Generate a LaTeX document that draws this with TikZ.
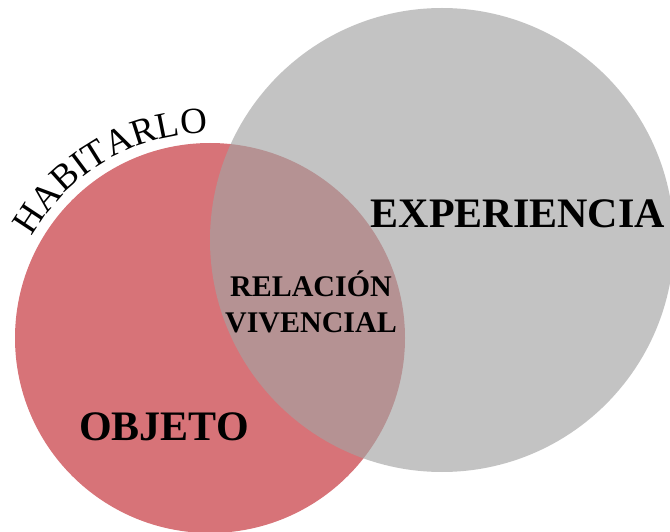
\documentclass[tikz,border=0pt]{standalone}
\usepackage{fontspec}
\setmainfont{Liberation Serif}
\usepackage{tikz}
\usetikzlibrary{positioning,
				decorations.text}
\definecolor{objred}{HTML}{D77378}
\definecolor{expgray}{HTML}{A3A3A3}
\newcommand{\habfont}{\fontsize{37}{42}\selectfont}

\begin{document}
\begin{tikzpicture}[x=1pt,y=1pt,
	lbl/.style={inner sep=0pt, font=\bfseries\fontsize{30}{36}\selectfont},
	big/.style={inner sep=0pt, font=\bfseries\fontsize{42}{50}\selectfont}]
		\useasboundingbox (0,0) rectangle (670,531);
		\clip (0,0) rectangle (670,531);
		\fill[objred] (210,193) circle (195pt);
		\fill[expgray, opacity=.65] (442,291) circle (232pt);
		\path[decorate, decoration={text along path, text align=center,
			text={|\habfont|HABITARLO}}]
			(210,193) ++(159.5:205pt) arc[start angle=159.5, end angle=81.5, radius=205pt];
		\node[big, anchor=base] (exp) at (518,303) {EXPERIENCIA};
		\node[big, anchor=base] (obj) at (164,91) {OBJETO};
		\node[lbl, anchor=base] (rel) at (311,234) {RELACIÓN};
		\node[lbl, anchor=base] (viv) at ([yshift=-36pt]rel.base) {VIVENCIAL};
\end{tikzpicture}
\end{document}
